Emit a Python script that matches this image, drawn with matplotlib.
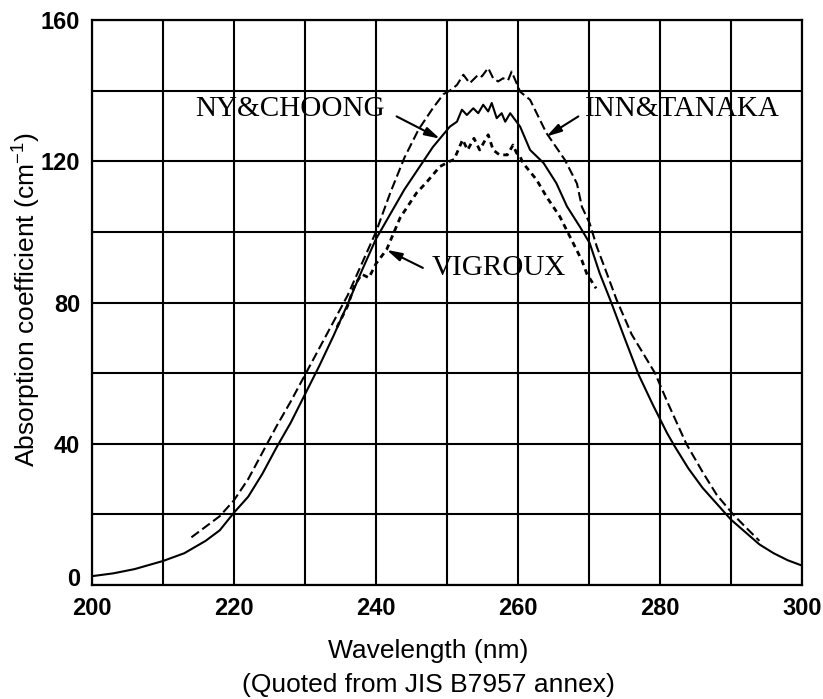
import numpy as np
import matplotlib
matplotlib.use("Agg")
import matplotlib.pyplot as plt
from matplotlib.transforms import ScaledTranslation

plt.rcParams['mathtext.default'] = 'regular'

# ---------------- data ----------------
# NY & CHOONG (solid)
ny_x = [200, 203, 206, 210, 213, 216, 218, 220, 222, 224, 226, 228, 230, 232, 234, 236, 238, 240,
        242, 244, 246, 248, 250.4, 251.4, 252.1, 252.8, 253.7, 254.4, 255.1, 255.8, 256.3, 257.0,
        257.7, 258.2, 258.9, 259.6, 260.3, 261.7, 263.6, 265.4, 266.9, 268.7, 270.1, 271.5, 273.0,
        275, 277, 279, 281, 282, 284, 286, 288, 290, 292, 294, 296, 298, 300]
ny_y = [2.5, 3.3, 4.5, 6.8, 9.0, 12.5, 15.5, 20.5, 25, 31.5, 39, 46, 54, 62, 70.5, 79.5, 89, 98,
        105, 112, 118, 124, 129.8, 131.2, 134.6, 133.1, 135.0, 133.6, 136.0, 134.1, 136.5, 132.2,
        133.6, 131.2, 133.6, 131.7, 129.8, 123.2, 119.5, 113.8, 107.2, 101.5, 96.8, 88.3, 80.7,
        70, 59.5, 51, 43, 39.5, 33, 27.5, 23, 18.5, 15, 11.5, 9, 7, 5.5]

# INN & TANAKA (long dashes)
inn_x = [214, 216, 218, 220, 222, 224, 226, 228, 230, 232, 234, 236, 238, 240, 242, 244, 246, 248,
         249.5, 250.4, 251.4, 252.3, 253.2, 254.4, 254.9, 255.8, 256.5, 257.2, 257.9, 258.6, 259.1,
         259.8, 260.3, 261.7, 264.0, 266.6, 268.3, 269.0, 270.1, 271.1, 272.5, 273.9, 276, 279.3,
         281, 283.7, 286, 288, 290.3, 292, 294]
inn_y = [13.5, 16.5, 19.5, 24, 30, 37.5, 45, 52, 59.5, 67, 74.5, 82, 91, 100, 111, 121, 129, 135,
         139, 140, 141.6, 144.5, 142.1, 144.5, 144.0, 146.4, 143.5, 142.6, 143.5, 142.9, 145.4,
         142.1, 139.7, 137.4, 128, 120.4, 113.7, 107.1, 102.4, 95.8, 88.3, 80.7, 71, 60,
         52, 40, 32, 25.5, 20, 16.5, 12.5]

# VIGROUX (short dashes)
vig_x = [234.5, 236, 237, 238, 239, 240, 241.5, 243.4, 245.7, 247.1, 249, 250.4, 251.0, 252.2,
         252.9, 253.8, 254.6, 255.8, 256.5, 257.4, 258.5, 259.3, 259.8, 260.3, 260.7, 262.6, 264.0,
         265.9, 267.8, 269.0, 269.7, 271]
vig_y = [73, 79, 85, 88, 87, 91, 95, 104, 111, 114, 118.5, 120, 120.5, 126.1,
         123.2, 126.5, 123.2, 127.5, 123.2, 121.8, 121.8, 124.6, 122.3, 121.3, 119.5, 114.8, 110,
         104.3, 96.7, 91.9, 88.1, 84]

x_ticks = [200, 220, 240, 260, 280, 300]
y_ticks = [0, 40, 80, 120, 160]

# ---------------- figure ----------------
fig = plt.figure(figsize=(8.23, 6.99), dpi=100)
ax = fig.add_axes([92/823, 1-585/699, 710/823, 565/699])

ax.set_xlim(200, 300)
ax.set_ylim(0, 160)
ax.set_xticks(x_ticks)
ax.set_xticks(np.arange(200, 301, 10), minor=True)
ax.set_yticks(y_ticks)
ax.set_yticks(np.arange(0, 161, 20), minor=True)
ax.grid(which='both', color='black', lw=1.5, zorder=1)
ax.set_axisbelow(True)
ax.tick_params(which='both', length=0, pad=8.5)
for lab in ax.get_xticklabels() + ax.get_yticklabels():
    lab.set_fontfamily('Liberation Sans')
    lab.set_fontweight('bold')
    lab.set_fontsize(17)
for s in ax.spines.values():
    s.set_linewidth(1.6)

# shift the "0" y label up a bit as in the reference
ylabs = ax.get_yticklabels()
ylabs[0].set_transform(ylabs[0].get_transform() + ScaledTranslation(0, 8/100, fig.dpi_scale_trans))

ax.plot(ny_x, ny_y, color='black', lw=1.5, zorder=3)
ax.plot(inn_x, inn_y, color='black', lw=1.5, ls=(0, (4.5, 2)), zorder=3)
ax.plot(vig_x, vig_y, color='black', lw=2.0, ls=(0, (2, 1.6)), zorder=3)

tfont = dict(family='Liberation Serif', fontsize=21, color='black', va='center', ha='left')
ap = dict(arrowstyle='-|>,head_length=0.9,head_width=0.25', lw=1.5, color='black',
          shrinkA=0, shrinkB=0)
ax.text(214.5, 134.8, 'NY&CHOONG', **tfont)
ax.annotate('', xy=(249.0, 126.4), xytext=(242.9, 132.7), arrowprops=ap)
ax.text(269.4, 134.8, 'INN&TANAKA', **tfont)
ax.annotate('', xy=(264.0, 127.0), xytext=(268.5, 132.7), arrowprops=ap)
ax.text(247.8, 89.8, 'VIGROUX', **tfont)
ax.annotate('', xy=(241.5, 94.9), xytext=(246.6, 89.8), arrowprops=ap)

lfont = dict(family='Liberation Sans', fontsize=19, color='black', ha='center', va='center')
fig.text(27/823, 1-300/699, 'Absorption coefficient (cm$^{-1}$)', rotation=90, **lfont)
fig.text(428/823, 1-651/699, 'Wavelength (nm)', **lfont)
fig.text(428/823, 1-685/699, '(Quoted from JIS B7957 annex)', **lfont)

fig.savefig('out.png', dpi=100)
